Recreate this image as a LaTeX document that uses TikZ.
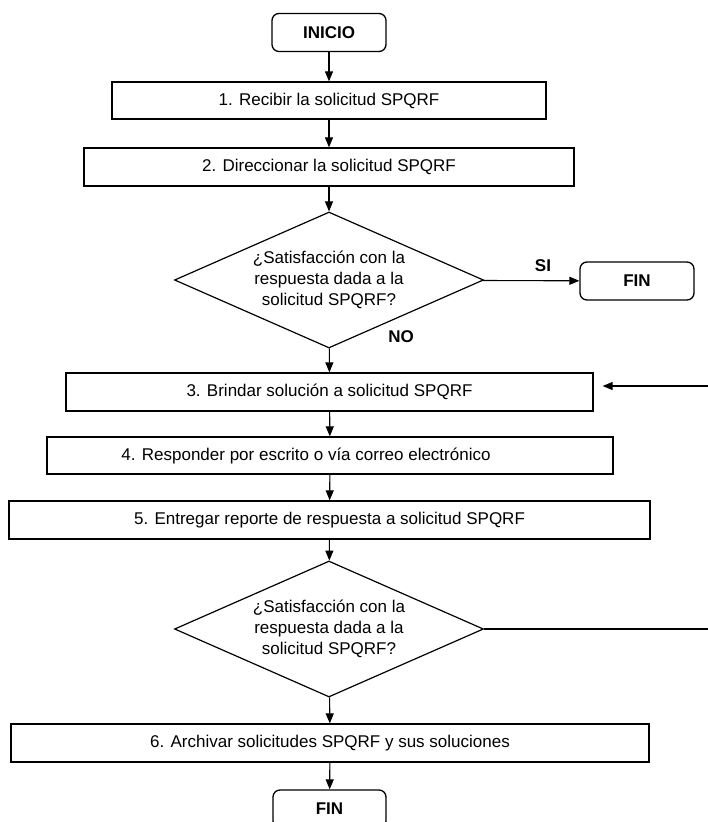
\documentclass[tikz,border=0pt]{standalone}
\usepackage{fontspec}
\setmainfont{Liberation Sans}
\usetikzlibrary{shapes.geometric,arrows.meta}
\begin{document}
\begin{tikzpicture}[x=1pt,y=-1pt,
  every node/.style={font=\fontsize{17}{21}\selectfont, inner sep=0pt},
  procbox/.style={draw, line width=1.3pt, minimum height=38pt},
  termbox/.style={draw, line width=1.3pt, rounded corners=7pt, minimum width=114pt, minimum height=38pt, font=\fontsize{17}{21}\selectfont\bfseries},
  decbox/.style={draw, diamond, aspect=2.27, line width=1.2pt, minimum width=309pt, minimum height=136pt, align=center},
  flow/.style={line width=1.1pt, -{Triangle[length=10pt,width=8pt]}},
  lbl/.style={font=\fontsize{17}{21}\selectfont\bfseries}
]
\useasboundingbox[fill=white] (0,0) rectangle (707,822);

\node[termbox] (inicio) at (329,32.5) {INICIO};
\node[procbox, minimum width=434pt, minimum height=37pt] (s1) at (329,100.5) {1. Recibir la solicitud SPQRF};
\node[procbox, minimum width=490pt] (s2) at (329,167) {2. Direccionar la solicitud SPQRF};
\node[decbox] (d1) at (329,280) {¿Satisfacción con la\\respuesta dada a la\\solicitud SPQRF?};
\node[termbox] (fin1) at (637,281) {FIN};
\node[lbl] (si) at (543,266) {SI};
\node[lbl] (no) at (401,337) {NO};
\node[procbox, minimum width=527pt] (s3) at (329.5,392) {3. Brindar solución a solicitud SPQRF};
\node[procbox, minimum width=566pt, minimum height=37pt] (s4) at (330,455.5) {4. Responder por escrito o vía correo electrónico\hspace*{48pt}};
\node[procbox, minimum width=641pt] (s5) at (329.5,520) {5. Entregar reporte de respuesta a solicitud SPQRF};
\node[decbox] (d2) at (329,629) {¿Satisfacción con la\\respuesta dada a la\\solicitud SPQRF?};
\node[procbox, minimum width=638pt] (s6) at (330,743) {6. Archivar solicitudes SPQRF y sus soluciones};
\node[termbox, minimum width=113pt] (fin2) at (329.5,809) {FIN};
\coordinate (loopc) at (712,629);

\draw[flow] (inicio) -- (s1);
\draw[flow] (s1) -- (s2);
\draw[flow] (s2) -- (d1);
\draw[flow] (d1) -- (fin1);
\draw[flow] (d1) -- (s3);
\draw[flow] (s3) -- (s4);
\draw[flow] (s4) -- (s5);
\draw[flow] (s5) -- (d2);
\draw[flow] (d2) -- (s6);
\draw[flow] (s6) -- (fin2);
\draw[flow, shorten >=9pt] (d2.east) -- (loopc) |- ([yshift=6pt]s3.east);
\end{tikzpicture}
\end{document}
